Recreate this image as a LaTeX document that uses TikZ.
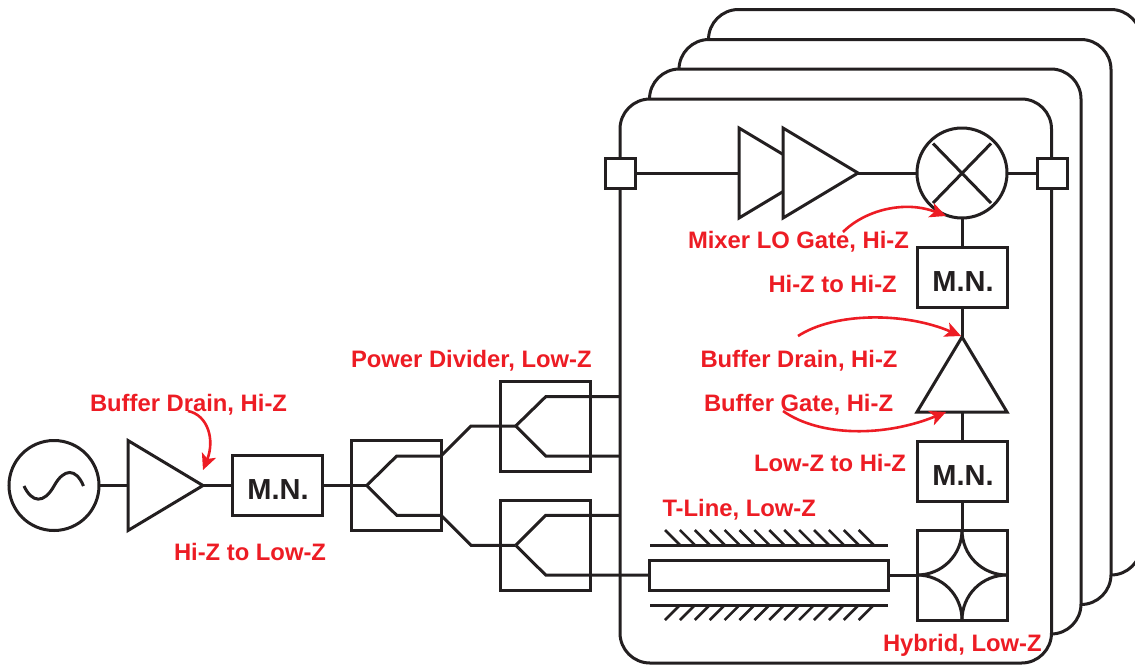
\documentclass[tikz,border=0pt]{standalone}
\usepackage{fontspec}
\setmainfont{Liberation Sans}
\usetikzlibrary{arrows.meta,shapes.geometric}
\definecolor{ink}{HTML}{231F20}
\definecolor{redink}{HTML}{ED1C24}
\tikzset{
  wire/.style={draw=ink,line width=3pt,line join=miter},
  card/.style={draw=ink,fill=white,line width=3pt,rounded corners=30pt},
  port/.style={rectangle,draw=ink,fill=white,line width=3pt,minimum size=30pt,inner sep=0pt,outer sep=0pt},
  mnbox/.style={rectangle,draw=ink,fill=white,line width=3pt,minimum width=90pt,minimum height=60pt,inner sep=0pt,outer sep=0pt,
    text=ink,font=\bfseries\fontsize{29}{32}\selectfont,text height=28pt,text depth=0pt,execute at begin node={\hspace{2pt}}},
  pdbox/.style={rectangle,draw=ink,line width=3pt,minimum size=90pt,inner sep=0pt,outer sep=0pt},
  roundel/.style={circle,draw=ink,fill=white,line width=3pt,minimum size=90pt,inner sep=0pt,outer sep=0pt},
  amp/.style={isosceles triangle,isosceles triangle stretches,draw=ink,fill=white,line width=3pt,inner sep=0pt,outer sep=0pt,
    minimum width=90pt,minimum height=75pt,anchor=apex},
  tag/.style={text=redink,font=\bfseries\fontsize{23.8}{28}\selectfont,anchor=base west,inner sep=0pt,outer sep=0pt},
  callout/.style={draw=redink,line width=2.6pt,-{Stealth[length=16pt,width=15pt,inset=4pt]}},
}
\begin{document}
\begin{tikzpicture}[x=1pt,y=-1pt]
\clip (0,0) rectangle (1135,665);
% stacked cards, back to front
\draw[card] (708.5,9.5) rectangle (1141,575);
\draw[card] (679,39.5) rectangle (1111,604.5);
\draw[card] (649.5,69) rectangle (1081,634);
\draw[card] (620,99) rectangle (1051.5,663);

% source chain
\node[roundel] (src) at (54,485.5) {};
\node[amp] (a0) at (203,485.5) {};
\node[mnbox] (mn1) at (277,485.5) {M.N.};
\draw[wire] (src.east) -- (a0.lower side);
\draw[wire] (a0.apex) -- (mn1.west);
\coordinate (s0) at (24,486);
\coordinate (s1) at (54,486);
\coordinate (s2) at (83.5,486);
\draw[wire] (s0) .. controls (32,503) and (44,504) .. (s1) .. controls (64,468) and (76,468) .. (s2);

% power dividers
\node[pdbox] (pd1) at (396.5,485.5) {};
\node[pdbox] (pd2) at (545,426) {};
\node[pdbox] (pd3) at (545,545) {};
\coordinate (t1) at (366.7,485.5);
\coordinate (t2) at (515.7,426);
\coordinate (t3) at (515.7,545.3);
\coordinate (u2) at (620,396.7);
\coordinate (l2) at (620,456);
\coordinate (u3) at (620,515.3);
\draw[wire] (mn1.east) -- (t1);
\draw[wire] (t1) -- (396.7,456) -- (441,456) -- (471,426) -- (t2);
\draw[wire] (t1) -- (396.7,515.3) -- (441,515.3) -- (471,545.3) -- (t3);
\draw[wire] (t2) -- (545.7,396.7) -- (u2);
\draw[wire] (t2) -- (545.7,456) -- (l2);
\draw[wire] (t3) -- (545.7,515.3) -- (u3);

% top row
\node[port] (p1) at (620,173) {};
\node[port] (p2) at (1052,173) {};
\node[amp] (a1) at (814,173) {};
\draw[wire] (p1.east) -- (a1.lower side);
\node[amp] (a2) at (858,173) {};
\node[roundel] (mix) at (962,173) {};
\draw[wire] (a2.apex) -- (mix.west);
\draw[wire] (mix.east) -- (p2.west);
\draw[wire] (933,143.5) -- (991,203);
\draw[wire] (991,143.5) -- (933,203);

% right column
\node[mnbox] (mn2) at (962,277) {M.N.};
\node[amp,shape border rotate=90] (a3) at (962,337) {};
\node[mnbox] (mn3) at (962,471) {M.N.};
\node[pdbox] (hy) at (962,575) {};
\draw[wire] (mix.south) -- (mn2.north);
\draw[wire] (mn2.south) -- (a3.apex);
\draw[wire] (a3.lower side) -- (mn3.north);
\draw[wire] (mn3.south) -- (hy.north);
\draw[wire] (hy.north) .. controls +(0,25) and +(25,0) .. (hy.west);
\draw[wire] (hy.north) .. controls +(0,25) and +(-25,0) .. (hy.east);
\draw[wire] (hy.south) .. controls +(0,-25) and +(25,0) .. (hy.west);
\draw[wire] (hy.south) .. controls +(0,-25) and +(-25,0) .. (hy.east);

% transmission line
\node[rectangle,draw=ink,fill=white,line width=3pt,minimum width=239pt,minimum height=30pt,inner sep=0pt,outer sep=0pt] (tl) at (768.5,575) {};
\draw[wire] (t3) -- (545.7,575) -- (tl.west);
\draw[wire] (tl.east) -- (hy.west);
\draw[wire] (650,545) -- (888,545);
\draw[wire] (650,605) -- (888,605);
\foreach \i in {0,...,13} {
  \draw[draw=ink,line width=2.6pt] (665+14.9*\i,530) -- (680+14.9*\i,545);
  \draw[draw=ink,line width=2.6pt] (665+14.9*\i,620) -- (680+14.9*\i,605);
}

% labels
\node[tag] (l1) at (688,248.5) {Mixer LO Gate, Hi-Z};
\node[tag] (l2t) at (768.5,292.5) {Hi-Z to Hi-Z};
\node[tag] (l3) at (700.5,367.5) {Buffer Drain, Hi-Z};
\node[tag] (l4) at (704,411.5) {Buffer Gate, Hi-Z};
\node[tag] (l5) at (754,471.5) {Low-Z to Hi-Z};
\node[tag] (l6) at (662.5,516.5) {T-Line, Low-Z};
\node[tag] (l7) at (883,651) {Hybrid, Low-Z};
\node[tag] (l8) at (351,367.5) {Power Divider, Low-Z};
\node[tag] (l9) at (90,411.5) {Buffer Drain, Hi-Z};
\node[tag] (l10) at (174,560) {Hi-Z to Low-Z};

% callouts
\coordinate (c1a) at (843,232); \coordinate (c1b) at (946,216);
\coordinate (c2a) at (798,336); \coordinate (c2b) at (961,336);
\coordinate (c3a) at (783,411); \coordinate (c3b) at (946,412);
\coordinate (c4a) at (188,411); \coordinate (c4b) at (203,470);
\draw[callout] (c1a) .. controls (865,210) and (905,200) .. (c1b);
\draw[callout] (c2a) .. controls (835,312) and (905,312) .. (c2b);
\draw[callout] (c3a) .. controls (820,437) and (885,437) .. (c3b);
\draw[callout] (c4a) .. controls (208,415) and (215,440) .. (c4b);
\end{tikzpicture}
\end{document}
